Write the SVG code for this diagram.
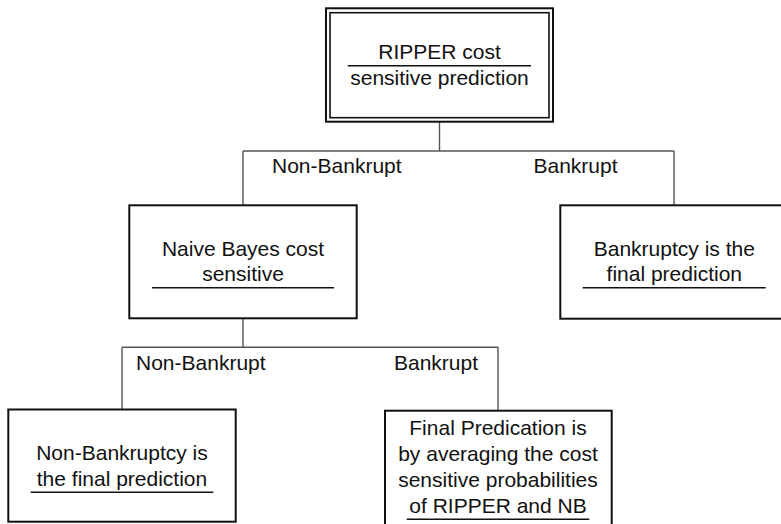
<svg xmlns="http://www.w3.org/2000/svg" width="781" height="524" viewBox="0 0 781 524">
<style>
.box{fill:#fff;stroke:#111;stroke-width:2}
.dbl{fill:none;stroke:#111;stroke-width:1.6}
.ul{stroke:#111;stroke-width:1.6}
.con{fill:none;stroke:#555;stroke-width:1.4}
text{font-family:"Liberation Sans",Arial,sans-serif;font-size:21px;fill:#111}
.c{text-anchor:middle}
</style>
<rect width="781" height="524" fill="#fff"/>
<g id="connectors">
<path class="con" d="M439.5 121.7V151M243 151H674M243 151V205M674 151V205"/>
<path class="con" d="M243 318.5V347.3M122 347.3H498M122 347.3V409.5M498 347.3V411"/>
</g>
<g id="labels">
<text x="272" y="173">Non-Bankrupt</text>
<text x="533.5" y="173">Bankrupt</text>
<text x="136" y="370">Non-Bankrupt</text>
<text x="394" y="370">Bankrupt</text>
</g>
<g id="ripper">
<rect class="box" x="326" y="8.3" width="227" height="113.4"/>
<rect class="dbl" x="330" y="12.7" width="219" height="105"/>
<text class="c" x="439.5" y="59">RIPPER cost</text>
<line class="ul" x1="347.7" y1="65.7" x2="531" y2="65.7"/>
<text class="c" x="439.5" y="85">sensitive prediction</text>
</g>
<g id="naive-bayes">
<rect class="box" x="129.3" y="205.3" width="227.4" height="113"/>
<text class="c" x="243" y="256">Naive Bayes cost</text>
<text class="c" x="243" y="281">sensitive</text>
<line class="ul" x1="152" y1="287.7" x2="334" y2="287.7"/>
</g>
<g id="bankruptcy">
<rect class="box" x="560.3" y="205.3" width="225" height="113.4"/>
<text class="c" x="674.3" y="256">Bankruptcy is the</text>
<text class="c" x="674.3" y="281">final prediction</text>
<line class="ul" x1="582.7" y1="287.7" x2="765.7" y2="287.7"/>
</g>
<g id="non-bankruptcy">
<rect class="box" x="8.3" y="409.5" width="227.4" height="112.2"/>
<text class="c" x="122" y="460">Non-Bankruptcy is</text>
<text class="c" x="122" y="485.7">the final prediction</text>
<line class="ul" x1="30.7" y1="492.3" x2="213.3" y2="492.3"/>
</g>
<g id="final-averaging">
<rect class="box" x="385" y="410.7" width="226.7" height="120"/>
<text class="c" x="498" y="435">Final Predication is</text>
<text class="c" x="498" y="461">by averaging the cost</text>
<text class="c" x="498" y="487">sensitive probabilities</text>
<text class="c" x="498" y="513">of RIPPER and NB</text>
<line class="ul" x1="406.7" y1="519.3" x2="589.3" y2="519.3"/>
</g>
</svg>
